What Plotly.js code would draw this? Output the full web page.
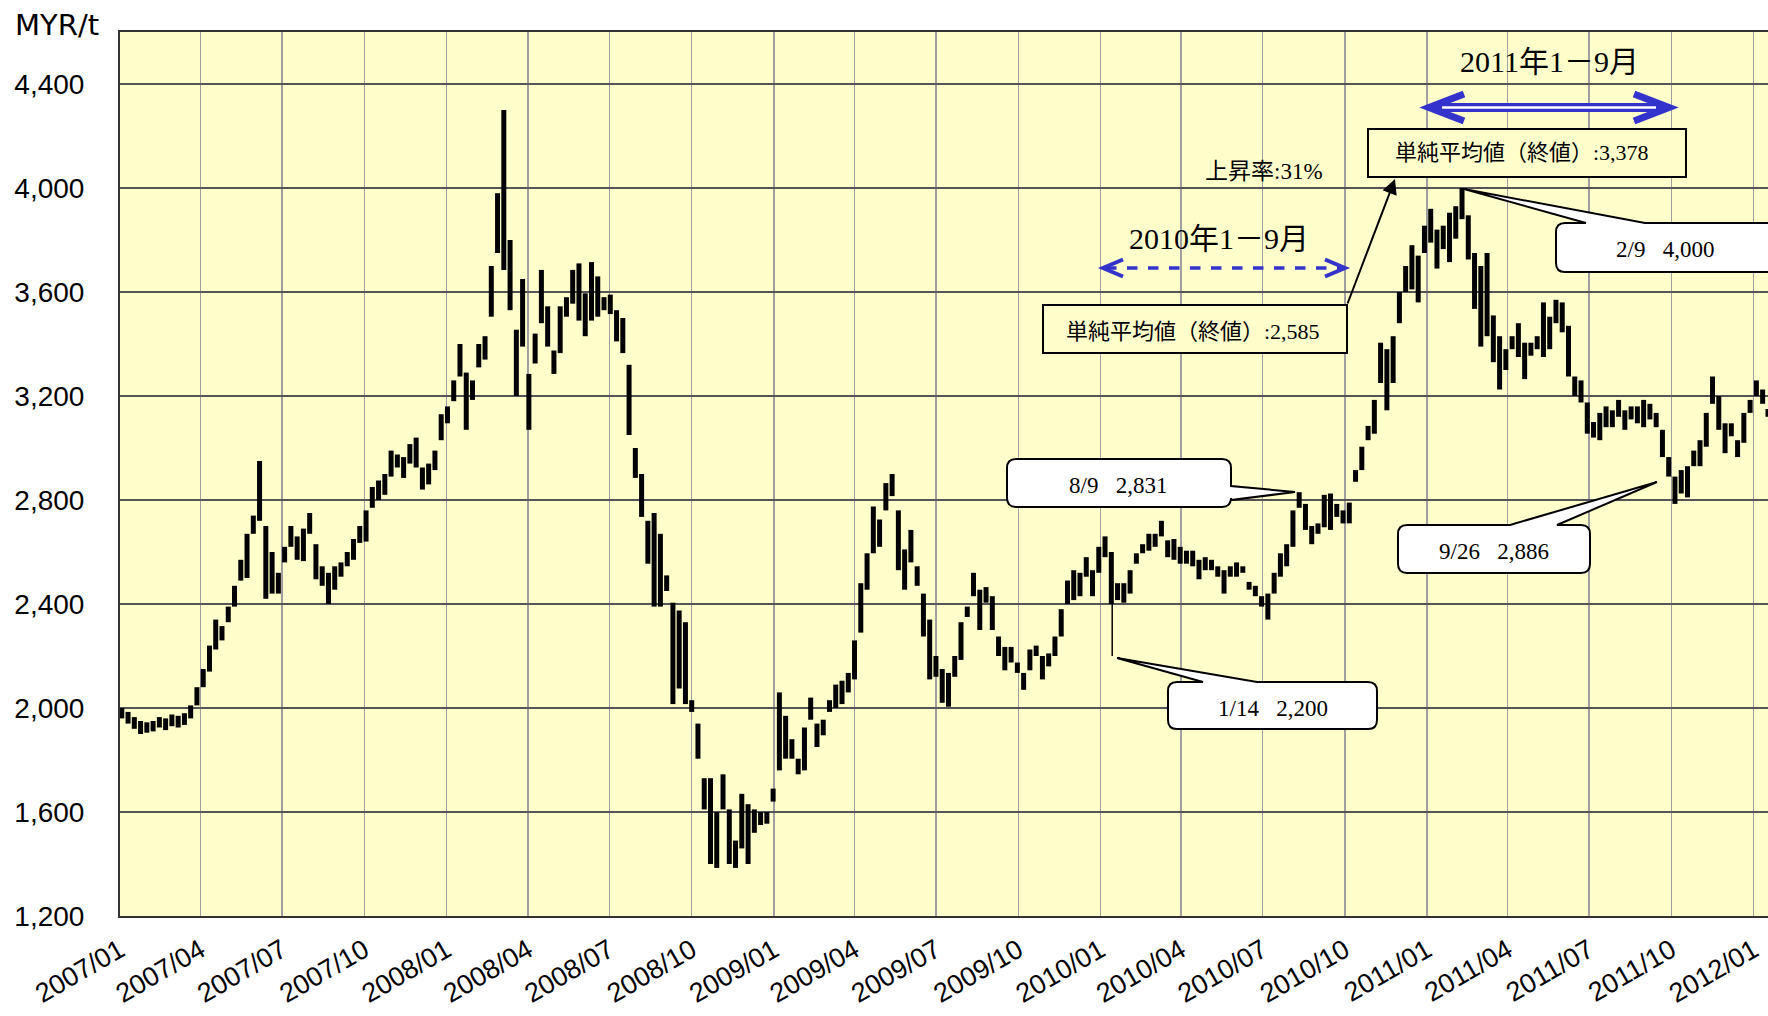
<!DOCTYPE html>
<html><head><meta charset="utf-8">
<script src="https://cdn.plot.ly/plotly-3.0.1.min.js"></script>
<style>html,body{margin:0;padding:0;background:#fff;} #chart{width:1768px;height:1016px;}</style>
</head><body><div id="chart"></div>
<script>
// ---- Weekly high / low (MYR/t), week centre dates ----
const wk2007 = ['01-03','01-10','01-17','01-24','01-31','02-07','02-14','02-21','02-28','03-07','03-14','03-21','03-28','04-04','04-11','04-18','04-25','05-02','05-09','05-16','05-23','05-30','06-06','06-13','06-20','06-27','07-04','07-11','07-18','07-25','08-01','08-08','08-15','08-22','08-29','09-05','09-12','09-19','09-26','10-03','10-10','10-17','10-24','10-31','11-07','11-14','11-21','11-28','12-05','12-12','12-19','12-26'];
const lo2007 = [1960,1940,1920,1900,1905,1910,1925,1915,1930,1925,1935,1960,2010, 2080,2140,2225,2260,2330,2390,2490,2500,2670,2720,2420,2440,2440, 2560,2620,2570,2565,2670,2495,2470,2400,2455,2505,2545,2570,2635, 2640,2770,2800,2820,2890,2925,2885,2940,2925,2840,2860,2915,3030];
const hi2007 = [2000,1985,1965,1950,1945,1950,1965,1960,1975,1970,1980,2010,2080, 2150,2240,2340,2315,2390,2470,2570,2670,2740,2950,2700,2600,2520, 2620,2700,2660,2690,2750,2630,2545,2520,2545,2560,2600,2650,2700, 2760,2850,2875,2900,2990,2975,2965,3015,3040,2925,2940,2990,3130];

const wk2008 = ['01-02','01-09','01-16','01-23','01-30','02-06','02-13','02-20','02-27','03-05','03-12','03-19','03-26','04-02','04-09','04-16','04-23','04-30','05-07','05-14','05-21','05-28','06-04','06-11','06-18','06-25','07-02','07-09','07-16','07-23','07-30','08-06','08-13','08-20','08-27','09-03','09-10','09-17','09-24','10-01','10-08','10-15','10-22','10-29','11-05','11-12','11-19','11-26','12-03','12-10','12-17','12-24','12-31'];
const lo2008 = [3095,3180,3275,3070,3185,3310,3340,3505,3750,3685,3530,3200,3390, 3070,3325,3480,3390,3285,3365,3505,3555,3490,3430,3490,3505,3530, 3515,3410,3365,3050,2885,2735,2555,2390,2390,2450,2015,2075,2015, 1985,1805,1610,1400,1385,1610,1400,1385,1460,1400,1520,1550,1555,1640];
const hi2008 = [3160,3260,3400,3290,3260,3400,3430,3700,3980,4300,3800,3455,3650, 3285,3440,3685,3545,3375,3545,3580,3685,3710,3595,3715,3660,3580, 3590,3530,3500,3320,3000,2900,2720,2750,2670,2510,2405,2375,2330, 2030,1940,1730,1730,1600,1745,1610,1490,1670,1630,1610,1600,1600,1690];

const wk2009 = ['01-07','01-14','01-21','01-28','02-04','02-11','02-18','02-25','03-04','03-11','03-18','03-25','04-01','04-08','04-15','04-22','04-29','05-06','05-13','05-20','05-27','06-03','06-10','06-17','06-24','07-01','07-08','07-15','07-22','07-29','08-05','08-12','08-19','08-26','09-02','09-09','09-16','09-23','09-30','10-07','10-14','10-21','10-28','11-04','11-11','11-18','11-25','12-02','12-09','12-16','12-23','12-30'];
const lo2009 = [1760,1805,1805,1745,1760,1955,1850,1895,1985,2000,2015,2060,2110, 2290,2455,2595,2620,2760,2815,2530,2455,2560,2470,2275,2110, 2120,2020,2005,2120,2185,2350,2430,2300,2405,2300,2200,2145,2175,2135, 2070,2145,2200,2110,2160,2200,2275,2400,2415,2430,2505,2430,2520];
const hi2009 = [2060,1970,1880,1805,1925,2040,1940,1955,2030,2090,2105,2135,2260, 2480,2595,2775,2725,2865,2900,2760,2610,2685,2545,2440,2340, 2200,2150,2135,2200,2330,2390,2520,2455,2465,2430,2275,2235,2235,2175, 2135,2225,2240,2200,2210,2275,2380,2490,2530,2520,2580,2530,2620];

const wk2010 = ['01-06','01-13','01-20','01-27','02-03','02-10','02-17','02-24','03-03','03-10','03-17','03-24','03-31','04-07','04-14','04-21','04-28','05-05','05-12','05-19','05-26','06-02','06-09','06-16','06-23','06-30','07-07','07-14','07-21','07-28','08-04','08-11','08-18','08-25','09-01','09-08','09-15','09-22','09-29','10-06','10-13','10-20','10-27','11-03','11-10','11-17','11-24','12-01','12-08','12-15','12-22','12-29'];
const lo2010 = [2580,2400,2415,2405,2440,2555,2595,2605,2620,2660,2580,2570,2555, 2555,2545,2495,2530,2530,2505,2440,2505,2505,2520,2455,2430,2390, 2340,2440,2505,2545,2620,2770,2685,2630,2670,2695,2685,2735,2710, 2710,2870,2915,3030,3055,3250,3145,3250,3480,3600,3610,3560,3750];
const hi2010 = [2660,2600,2480,2480,2530,2595,2630,2670,2670,2720,2645,2650,2620, 2605,2605,2570,2580,2570,2545,2530,2545,2560,2545,2485,2470,2430, 2440,2520,2595,2630,2760,2830,2785,2700,2710,2820,2825,2785,2760, 2790,2915,3005,3085,3185,3405,3380,3430,3600,3700,3780,3740,3855];

const wk2011 = ['01-05','01-12','01-19','01-26','02-02','02-09','02-16','02-23','03-02','03-09','03-16','03-23','03-30','04-06','04-13','04-20','04-27','05-04','05-11','05-18','05-25','06-01','06-08','06-15','06-22','06-29','07-06','07-13','07-20','07-27','08-03','08-10','08-17','08-24','08-31','09-07','09-14','09-21','09-28','10-05','10-12','10-19','10-26','11-02','11-09','11-16','11-23','11-30','12-07','12-14','12-21','12-28'];
const lo2011 = [3790,3690,3765,3715,3805,3880,3725,3535,3390,3430,3330,3225,3300, 3380,3350,3265,3355,3380,3350,3380,3480,3445,3275,3200,3175,3055, 3040,3030,3080,3080,3120,3070,3110,3095,3080,3110,3080,2965,2890, 2785,2825,2810,2930,2930,3005,3170,3070,2980,3045,2965,3020,3135];
const hi2011 = [3920,3840,3855,3905,3930,4000,3895,3750,3700,3750,3510,3430,3380, 3430,3480,3405,3405,3430,3560,3505,3570,3560,3470,3275,3260,3175, 3100,3135,3160,3145,3185,3145,3160,3160,3185,3170,3135,3070,2965, 2890,2915,2930,2990,3030,3135,3275,3200,3095,3095,3030,3135,3185];

const wk2012 = ['01-04','01-11','01-17'];
const lo2012 = [3200,3170,3120];
const hi2012 = [3260,3225,3150];

// thin single-day spike (1/14/2010 low 2,200)
const spikeDates = ['2010-01-14'];
const spikeLo = [2200];
const spikeHi = [2420];

const yTickVals = [1200,1600,2000,2400,2800,3200,3600,4000,4400];
const yTickText = ['1,200','1,600','2,000','2,400','2,800','3,200','3,600','4,000','4,400'];
const xTickVals = ['2007-01-01','2007-04-01','2007-07-01','2007-10-01','2008-01-01','2008-04-01','2008-07-01','2008-10-01','2009-01-01','2009-04-01','2009-07-01','2009-10-01','2010-01-01','2010-04-01','2010-07-01','2010-10-01','2011-01-01','2011-04-01','2011-07-01','2011-10-01','2012-01-01'];
const xTickText = ['2007/01','2007/04','2007/07','2007/10','2008/01','2008/04','2008/07','2008/10','2009/01','2009/04','2009/07','2009/10','2010/01','2010/04','2010/07','2010/10','2011/01','2011/04','2011/07','2011/10','2012/01'];

// ---- build vertical high-low segments ----
const years = [[2007,wk2007,lo2007,hi2007],[2008,wk2008,lo2008,hi2008],[2009,wk2009,lo2009,hi2009],[2010,wk2010,lo2010,hi2010],[2011,wk2011,lo2011,hi2011],[2012,wk2012,lo2012,hi2012]];
const bx = [], by = [];
years.forEach(([yr, wk, lo, hi]) => {
  wk.forEach((d, i) => { const dt = yr + '-' + d; bx.push(dt, dt, null); by.push(lo[i], hi[i], null); });
});
const sx = [], sy = [];
spikeDates.forEach((d, i) => { sx.push(d, d, null); sy.push(spikeLo[i], spikeHi[i], null); });

// ---- layout geometry (pixels) ----
const W = 1768, H = 1016, L = 120, T = 32, PW = 1648, PH = 884;
const fx = x => (x - L) / PW;
const fy = y => (T + PH - y) / PH;
const P = (x, y) => fx(x).toFixed(5) + ',' + fy(y).toFixed(5);

function roundBox(x0, y0, x1, y1, r, tail) {
  let d = 'M' + P(x0 + r, y0);
  if (tail && tail.side === 'top') d += ' L' + P(tail.a, y0) + ' L' + P(tail.tx, tail.ty) + ' L' + P(tail.b, y0);
  d += ' L' + P(x1 - r, y0) + ' Q' + P(x1, y0) + ' ' + P(x1, y0 + r);
  if (tail && tail.side === 'right') d += ' L' + P(x1, tail.a) + ' L' + P(tail.tx, tail.ty) + ' L' + P(x1, tail.b);
  d += ' L' + P(x1, y1 - r) + ' Q' + P(x1, y1) + ' ' + P(x1 - r, y1);
  d += ' L' + P(x0 + r, y1) + ' Q' + P(x0, y1) + ' ' + P(x0, y1 - r);
  d += ' L' + P(x0, y0 + r) + ' Q' + P(x0, y0) + ' ' + P(x0 + r, y0) + ' Z';
  return d;
}
const BLUE = 'rgb(51,51,204)';
const pathShape = (d, fill, color, width, dash) => ({type:'path', xref:'paper', yref:'paper', path:d, fillcolor:fill, line:{color:color, width:width, dash:dash||'solid'}, layer:'above'});

const shapes = [
  // 2010 dashed double arrow
  pathShape('M' + P(1106, 268) + ' L' + P(1342, 268), 'rgba(0,0,0,0)', BLUE, 3.5, 'dash'),
  pathShape('M' + P(1123, 259.5) + ' L' + P(1103, 268) + ' L' + P(1123, 276.5), 'rgba(0,0,0,0)', BLUE, 4),
  pathShape('M' + P(1325, 259.5) + ' L' + P(1345, 268) + ' L' + P(1325, 276.5), 'rgba(0,0,0,0)', BLUE, 4),
  // 2011 double-line arrow
  pathShape('M' + P(1434, 107.5) + ' L' + P(1664, 107.5), 'rgba(0,0,0,0)', BLUE, 9),
  pathShape('M' + P(1442, 107.5) + ' L' + P(1656, 107.5), 'rgba(0,0,0,0)', '#ffffff', 2.5),
  pathShape('M' + P(1464, 94) + ' L' + P(1429, 107.5) + ' L' + P(1464, 121), 'rgba(0,0,0,0)', BLUE, 7),
  pathShape('M' + P(1634, 94) + ' L' + P(1669, 107.5) + ' L' + P(1634, 121), 'rgba(0,0,0,0)', BLUE, 7),
  // average boxes
  pathShape('M' + P(1043, 305) + ' L' + P(1347, 305) + ' L' + P(1347, 353) + ' L' + P(1043, 353) + ' Z', '#FFFFCC', '#000', 2),
  pathShape('M' + P(1368, 129) + ' L' + P(1686, 129) + ' L' + P(1686, 177) + ' L' + P(1368, 177) + ' Z', '#FFFFCC', '#000', 2),
  // callouts
  pathShape(roundBox(1007, 459, 1231, 507, 9, {side:'right', a:486, b:500, tx:1295, ty:492}), '#ffffff', '#000', 2),
  pathShape(roundBox(1168, 682, 1377, 729, 9, {side:'top', a:1203, b:1257, tx:1117, ty:658}), '#ffffff', '#000', 2),
  pathShape(roundBox(1398, 525, 1590, 573, 9, {side:'top', a:1510, b:1557, tx:1657, ty:482}), '#ffffff', '#000', 2),
  pathShape(roundBox(1556, 223, 1778, 272, 9, {side:'top', a:1586, b:1645, tx:1464, ty:189}), '#ffffff', '#000', 2)
];

const SERIF = "'Liberation Serif', 'Times New Roman', 'Noto Sans CJK JP', serif";
const SANS = "'Liberation Sans', Arial, sans-serif";
const txt = (x, y, text, size, family) => ({xref:'paper', yref:'paper', x:fx(x), y:fy(y), text:text, showarrow:false, xanchor:'center', yanchor:'middle', font:{family:family||SERIF, size:size, color:'#000'}});

const annotations = [
  {xref:'paper', yref:'paper', x:fx(13), y:fy(25), text:'MYR/t', showarrow:false, xanchor:'left', yanchor:'middle', font:{family:"'DejaVu Sans', sans-serif", size:29, color:'#000'}},
  txt(1549, 61, '2011年1－9月', 30),
  txt(1219, 239, '2010年1－9月', 30),
  txt(1193, 331, '単純平均値（終値）:2,585', 22),
  txt(1522, 153, '単純平均値（終値）:3,378', 22),
  txt(1264, 171, '上昇率:31%', 23),
  txt(1118, 486, '8/9\u00a0\u00a0\u00a02,831', 23),
  txt(1273, 708, '1/14\u00a0\u00a0\u00a02,200', 23),
  txt(1494, 551, '9/26\u00a0\u00a0\u00a02,886', 23),
  txt(1665, 249, '2/9\u00a0\u00a0\u00a04,000', 23),
  {xref:'paper', yref:'paper', x:fx(1395), y:fy(179), ax:-48, ay:126, text:'', showarrow:true, arrowhead:2, arrowsize:1.5, arrowwidth:2, arrowcolor:'#000', standoff:0}
];

const traces = [
  {type:'scatter', mode:'lines', x:bx, y:by, line:{color:'#000', width:5}, hoverinfo:'skip', showlegend:false, connectgaps:false},
  {type:'scatter', mode:'lines', x:sx, y:sy, line:{color:'#000', width:1.5}, hoverinfo:'skip', showlegend:false, connectgaps:false}
];

const layout = {
  width:W, height:H,
  margin:{l:L, r:W - L - PW, t:T, b:H - T - PH, pad:0},
  paper_bgcolor:'#ffffff', plot_bgcolor:'#FFFFCC',
  showlegend:false, hovermode:false,
  xaxis:{type:'date', range:['2007-01-01','2012-01-17'], tickmode:'array', tickvals:xTickVals, ticktext:xTickText,
    tickangle:-30, tickfont:{family:SANS, size:27, color:'#000'}, ticks:'', ticklabelstandoff:6,
    showgrid:true, gridcolor:'#a0a0a0', gridwidth:1.5, showline:true, linecolor:'#333', linewidth:2, mirror:true, zeroline:false},
  yaxis:{range:[1200,4600], tickmode:'array', tickvals:yTickVals, ticktext:yTickText,
    tickfont:{family:SANS, size:28, color:'#000'}, ticks:'', ticklabelstandoff:28,
    showgrid:true, gridcolor:'#555555', gridwidth:2, showline:true, linecolor:'#333', linewidth:2, mirror:true, zeroline:false},
  shapes:shapes, annotations:annotations
};

Plotly.newPlot('chart', traces, layout, {staticPlot:true, displayModeBar:false});
</script>
</body></html>
